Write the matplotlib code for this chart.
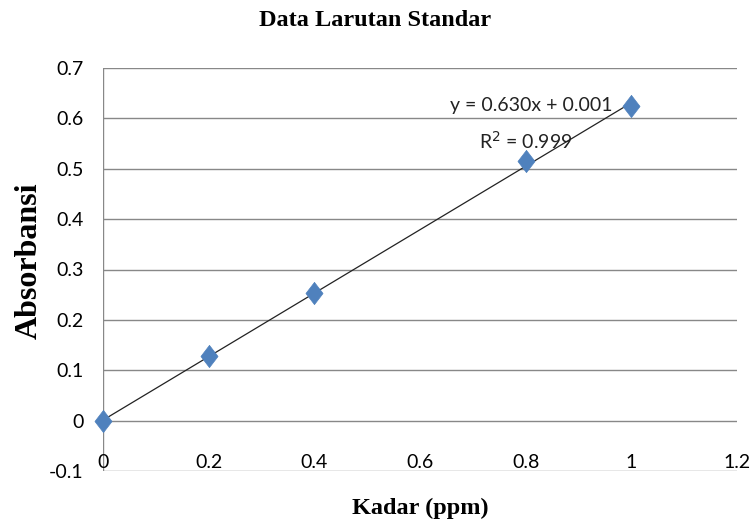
import matplotlib
matplotlib.use("Agg")
import matplotlib.pyplot as plt
import numpy as np

kadar = [0.0, 0.2, 0.4, 0.8, 1.0]
absorbansi = [0.0, 0.128, 0.253, 0.515, 0.625]
slope = 0.630
intercept = 0.001
x_ticks = [0, 0.2, 0.4, 0.6, 0.8, 1, 1.2]
x_tick_labels = ["0", "0.2", "0.4", "0.6", "0.8", "1", "1.2"]
y_ticks = [-0.1, 0, 0.1, 0.2, 0.3, 0.4, 0.5, 0.6, 0.7]
y_tick_labels = ["-0.1", "0", "0.1", "0.2", "0.3", "0.4", "0.5", "0.6", "0.7"]

fig = plt.figure(figsize=(7.55, 5.24), dpi=100)
ax = fig.add_axes([103/755, 1-471/524, (737-103)/755, (471-68)/524])

ax.set_xlim(0, 1.2)
ax.set_ylim(-0.1, 0.7)
for s in ax.spines.values():
    s.set_visible(False)
for yv in y_ticks:
    ax.axhline(yv, color="#888888", lw=1.0, zorder=1)
ax.axvline(0, color="#888888", lw=1.0, zorder=1)

# tall diamond marker (reference is vertically stretched)
diamond = [(0, 1.3), (1, 0), (0, -1.3), (-1, 0), (0, 1.3)]

xt = np.array([min(kadar), max(kadar)])
ax.plot(xt, slope * xt + intercept, color="#222222", lw=0.9, zorder=2)
ax.plot(kadar, absorbansi, linestyle="none", marker=diamond, markersize=16,
        color="#4F81BD", markeredgecolor="#4F81BD", markeredgewidth=0.5,
        zorder=3, clip_on=False)

tickfont = dict(family="Lato", size=14)
ax.set_xticks(x_ticks)
ax.set_xticklabels(x_tick_labels, fontdict=tickfont)
ax.set_yticks(y_ticks)
ax.set_yticklabels(y_tick_labels, fontdict=tickfont)
ax.tick_params(axis="both", length=0)
ax.tick_params(axis="x", pad=-12)
ax.tick_params(axis="y", pad=14)

ax.text(0.965, 0.626, "y = 0.630x + 0.001", fontsize=14, family="Lato",
        ha="right", va="center", color="#222222")
ax.text(0.80, 0.556, "R$^2$ = 0.999", fontsize=14, family="Lato",
        ha="center", va="center", color="#222222")

fig.text(375/755, 1-20/524, "Data Larutan Standar", fontsize=17.5, fontweight="bold",
         family="Liberation Serif", ha="center", va="center")
fig.text(420/755, 1-508/524, "Kadar (ppm)", fontsize=17.5, fontweight="bold",
         family="Liberation Serif", ha="center", va="center")
fig.text(29/755, 1-261/524, "Absorbansi", fontsize=23, fontweight="bold",
         family="Liberation Serif", ha="center", va="center", rotation=90)

fig.savefig("out.png", dpi=100)
